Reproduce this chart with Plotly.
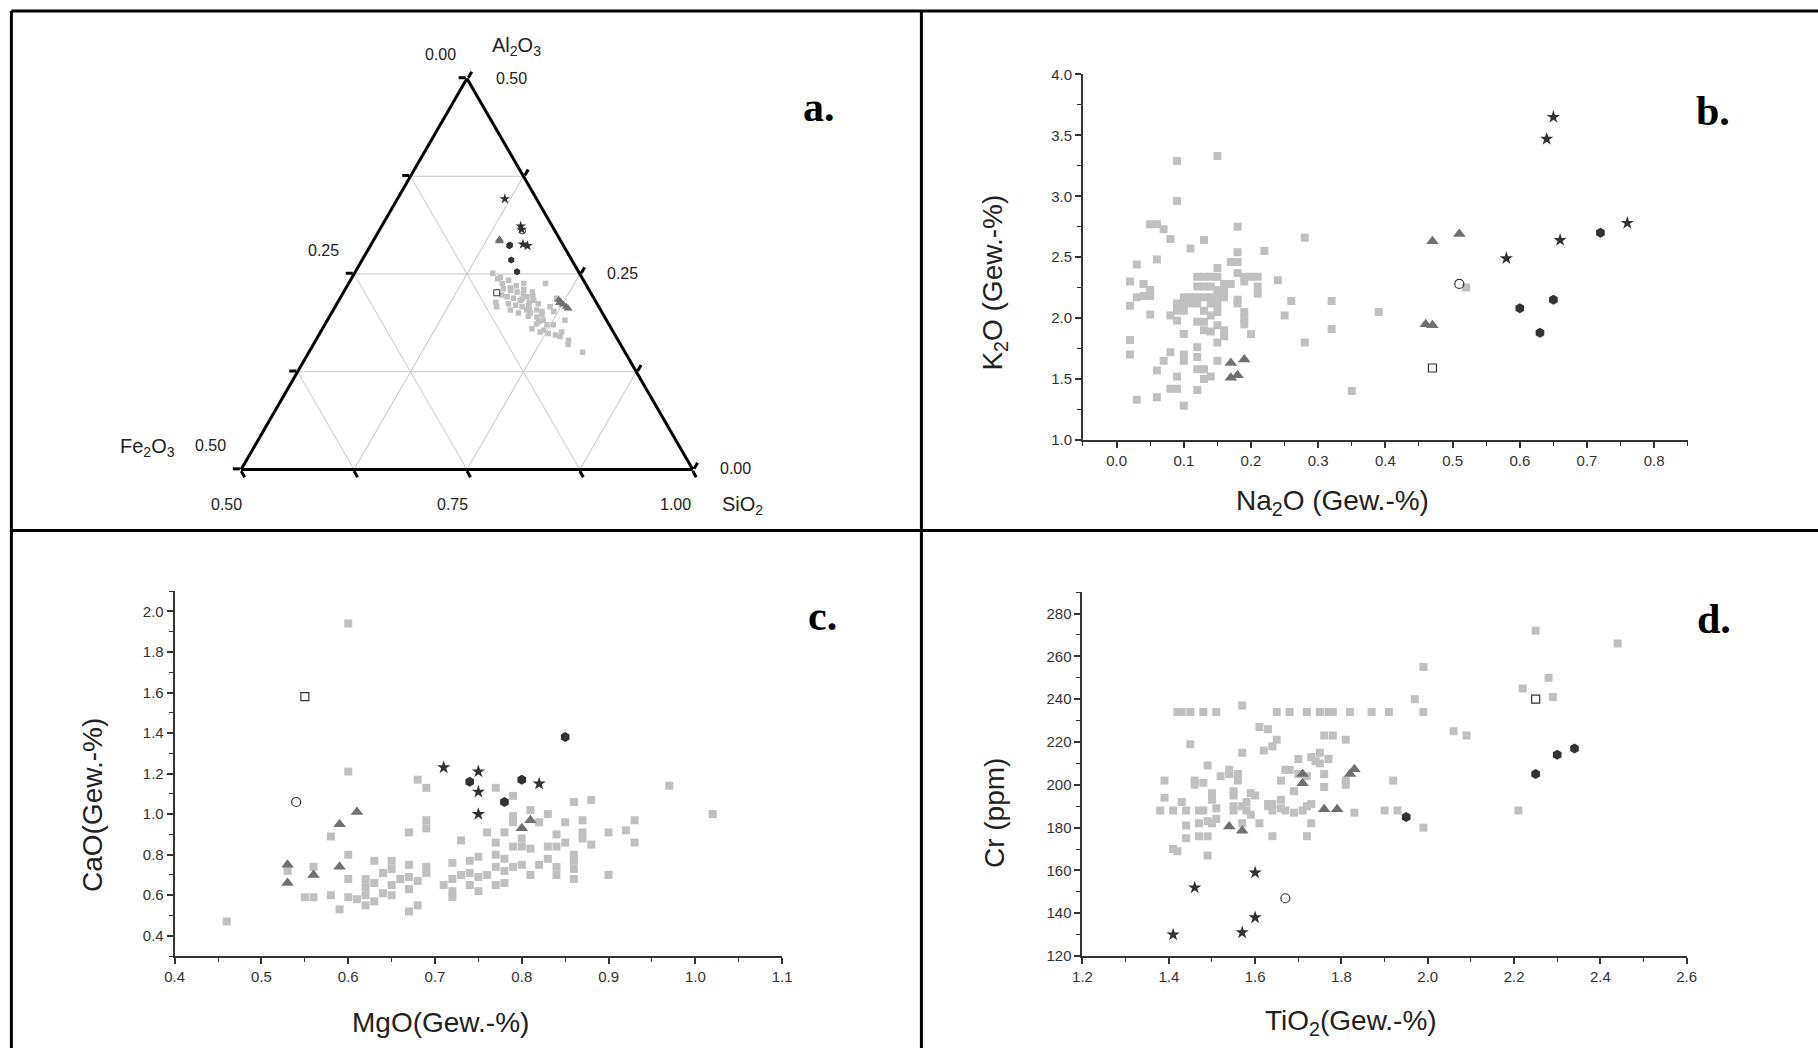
import plotly.graph_objects as go

W, H = 1818, 1048
# The photographed page appears inset and slightly scaled; positions below are
# given in target-picture pixels and mapped into figure space.
SX, TX = 0.989, 9.6
SY, TY = 0.983, 9.0

# ---------------- Panel a: ternary (Al2O3 / Fe2O3 / SiO2 fractions) ----------------
tern_sq_al = [0.251, 0.244, 0.238, 0.242, 0.238, 0.231, 0.229, 0.227, 0.225, 0.221, 0.219, 0.216,
              0.221, 0.227, 0.216, 0.212, 0.214, 0.208, 0.212, 0.210, 0.208, 0.210, 0.204, 0.202,
              0.208, 0.202, 0.200, 0.195, 0.191, 0.189, 0.185, 0.185, 0.180, 0.176, 0.178, 0.172,
              0.174, 0.191, 0.165, 0.150, 0.246, 0.219, 0.238, 0.204, 0.223, 0.176, 0.204, 0.200,
              0.235, 0.232, 0.218, 0.214, 0.206, 0.198, 0.196, 0.222, 0.230, 0.186, 0.170, 0.160]
tern_sq_fe = [0.096, 0.094, 0.092, 0.083, 0.044, 0.094, 0.087, 0.081, 0.075, 0.095, 0.089, 0.083,
              0.073, 0.064, 0.068, 0.065, 0.111, 0.113, 0.098, 0.091, 0.085, 0.077, 0.071, 0.066,
              0.054, 0.053, 0.080, 0.075, 0.070, 0.076, 0.062, 0.069, 0.088, 0.081, 0.076, 0.066,
              0.073, 0.046, 0.055, 0.047, 0.090, 0.041, 0.068, 0.082, 0.100, 0.057, 0.100, 0.093,
              0.078, 0.086, 0.080, 0.074, 0.078, 0.068, 0.084, 0.066, 0.072, 0.080, 0.062, 0.058]
tern_sq_si = [0.653, 0.662, 0.670, 0.675, 0.718, 0.675, 0.684, 0.692, 0.700, 0.684, 0.692, 0.701,
              0.706, 0.709, 0.716, 0.723, 0.675, 0.679, 0.690, 0.699, 0.707, 0.713, 0.725, 0.732,
              0.738, 0.745, 0.720, 0.730, 0.739, 0.735, 0.753, 0.746, 0.732, 0.743, 0.746, 0.762,
              0.753, 0.763, 0.780, 0.803, 0.664, 0.740, 0.694, 0.714, 0.677, 0.767, 0.696, 0.707,
              0.687, 0.682, 0.702, 0.712, 0.716, 0.734, 0.720, 0.712, 0.698, 0.734, 0.768, 0.782]

tern_tri_al = [0.294, 0.292, 0.215, 0.217, 0.213, 0.206, 0.208, 0.211]
tern_tri_fe = [0.067, 0.068, 0.039, 0.040, 0.041, 0.035, 0.036, 0.038]
tern_tri_si = [0.639, 0.640, 0.746, 0.743, 0.746, 0.759, 0.756, 0.751]

tern_star_al = [0.346, 0.311, 0.288, 0.286, 0.307]
tern_star_fe = [0.035, 0.035, 0.044, 0.040, 0.036]
tern_star_si = [0.619, 0.654, 0.668, 0.674, 0.657]

tern_hex_al = [0.286, 0.268, 0.253, 0.287]
tern_hex_fe = [0.060, 0.067, 0.068, 0.059]
tern_hex_si = [0.654, 0.665, 0.679, 0.654]

tern_oc_al, tern_oc_fe, tern_oc_si = [0.305], [0.036], [0.659]
tern_os_al, tern_os_fe, tern_os_si = [0.226], [0.104], [0.670]

# ---------------- Panel b: Na2O vs K2O ----------------
b_sq_na = [0.09, 0.15, 0.09, 0.05, 0.06, 0.07, 0.08, 0.18, 0.13, 0.11, 0.28, 0.22, 0.06, 0.03, 0.18,
           0.02, 0.04, 0.05, 0.04, 0.03, 0.05, 0.02, 0.05,
           0.15, 0.17, 0.18, 0.18, 0.12, 0.13, 0.14, 0.15, 0.16, 0.17, 0.12, 0.13, 0.14, 0.15, 0.16,
           0.10, 0.11, 0.12, 0.13, 0.14, 0.15, 0.16, 0.09, 0.10, 0.11, 0.12, 0.14, 0.15, 0.09, 0.10,
           0.13, 0.15, 0.14, 0.08,
           0.19, 0.20, 0.21, 0.19, 0.21, 0.21, 0.24, 0.18, 0.18, 0.26, 0.25, 0.19, 0.19, 0.19, 0.32, 0.32,
           0.09, 0.12, 0.13, 0.13, 0.14, 0.15, 0.16, 0.16, 0.10, 0.20, 0.15, 0.28, 0.02, 0.02, 0.08,
           0.07, 0.10, 0.10, 0.12, 0.12, 0.15, 0.06, 0.09, 0.12, 0.13, 0.13, 0.14, 0.08, 0.09, 0.12,
           0.03, 0.06, 0.10,
           0.35, 0.39, 0.52]
b_sq_k = [3.29, 3.33, 2.96, 2.77, 2.77, 2.73, 2.65, 2.75, 2.64, 2.57, 2.66, 2.55, 2.48, 2.44, 2.54,
          2.30, 2.28, 2.23, 2.18, 2.17, 2.18, 2.10, 2.03,
          2.41, 2.46, 2.46, 2.37, 2.34, 2.34, 2.34, 2.34, 2.28, 2.28, 2.26, 2.26, 2.26, 2.23, 2.23,
          2.17, 2.17, 2.17, 2.17, 2.17, 2.17, 2.17, 2.12, 2.12, 2.12, 2.12, 2.12, 2.11, 2.06, 2.06,
          2.06, 2.05, 2.02, 2.02,
          2.34, 2.34, 2.34, 2.30, 2.26, 2.20, 2.31, 2.15, 2.12, 2.14, 2.02, 2.05, 2.00, 1.95, 2.14, 1.91,
          1.98, 1.97, 1.97, 1.90, 1.89, 1.94, 1.90, 1.85, 1.87, 1.87, 1.80, 1.80, 1.82, 1.70, 1.72,
          1.65, 1.70, 1.65, 1.76, 1.68, 1.65, 1.57, 1.52, 1.58, 1.58, 1.50, 1.52, 1.42, 1.42, 1.41,
          1.33, 1.35, 1.28,
          1.40, 2.05, 2.25]
b_tri_na = [0.47, 0.51, 0.46, 0.47, 0.17, 0.19, 0.17, 0.18]
b_tri_k = [2.63, 2.69, 1.95, 1.94, 1.63, 1.66, 1.51, 1.53]
b_star_na = [0.65, 0.64, 0.58, 0.66, 0.76]
b_star_k = [3.65, 3.47, 2.49, 2.64, 2.78]
b_hex_na = [0.72, 0.60, 0.63, 0.65]
b_hex_k = [2.70, 2.08, 1.88, 2.15]
b_oc_na, b_oc_k = [0.51], [2.28]
b_os_na, b_os_k = [0.47], [1.59]

# ---------------- Panel c: MgO vs CaO ----------------
c_sq_mg = [0.60, 0.68, 0.69, 0.58, 0.67, 0.69, 0.69, 0.77, 0.79, 0.79, 0.79, 0.73, 0.76, 0.77, 0.78,
           0.60, 0.56, 0.53, 0.63, 0.65, 0.65, 0.64, 0.67, 0.69, 0.69, 0.72, 0.74, 0.75, 0.77, 0.77,
           0.78, 0.78, 0.78, 0.79, 0.80, 0.80, 0.79, 0.80,
           0.60, 0.62, 0.62, 0.62, 0.63, 0.65, 0.64, 0.65, 0.66, 0.67, 0.67, 0.68, 0.71, 0.72, 0.72,
           0.72, 0.73, 0.74, 0.74, 0.75, 0.75, 0.76, 0.77,
           0.55, 0.56, 0.58, 0.60, 0.61, 0.62, 0.63, 0.59, 0.67, 0.68,
           0.60, 0.46, 0.97, 1.02,
           0.86, 0.88, 0.81, 0.83, 0.82, 0.85, 0.87, 0.93, 0.92, 0.90, 0.93, 0.84, 0.87, 0.87, 0.85,
           0.88, 0.83, 0.84, 0.81, 0.86, 0.86, 0.86, 0.83, 0.82, 0.84, 0.84, 0.81, 0.86, 0.90]
c_sq_ca = [1.21, 1.17, 1.13, 0.89, 0.91, 0.97, 0.93, 1.13, 1.09, 0.99, 0.96, 0.87, 0.91, 0.86, 0.91,
           0.80, 0.74, 0.72, 0.77, 0.77, 0.73, 0.71, 0.75, 0.74, 0.71, 0.76, 0.77, 0.79, 0.80, 0.74,
           0.78, 0.72, 0.66, 0.74, 0.75, 0.84, 0.84, 0.88,
           0.68, 0.68, 0.64, 0.60, 0.66, 0.65, 0.61, 0.60, 0.68, 0.69, 0.63, 0.67, 0.65, 0.68, 0.62,
           0.59, 0.70, 0.71, 0.65, 0.69, 0.62, 0.70, 0.65,
           0.59, 0.59, 0.60, 0.59, 0.58, 0.55, 0.57, 0.53, 0.52, 0.55,
           1.94, 0.47, 1.14, 1.00,
           1.06, 1.07, 1.02, 1.00, 0.96, 0.96, 0.97, 0.97, 0.92, 0.91, 0.86, 0.90, 0.91, 0.88, 0.86,
           0.85, 0.84, 0.84, 0.83, 0.80, 0.77, 0.73, 0.78, 0.75, 0.74, 0.70, 0.70, 0.68, 0.70]
c_tri_mg = [0.53, 0.53, 0.56, 0.59, 0.59, 0.61, 0.80, 0.81]
c_tri_ca = [0.75, 0.66, 0.70, 0.74, 0.95, 1.01, 0.93, 0.97]
c_star_mg = [0.71, 0.75, 0.75, 0.75, 0.82]
c_star_ca = [1.23, 1.21, 1.11, 1.00, 1.15]
c_hex_mg = [0.74, 0.78, 0.80, 0.85]
c_hex_ca = [1.16, 1.06, 1.17, 1.38]
c_oc_mg, c_oc_ca = [0.54], [1.06]
c_os_mg, c_os_ca = [0.55], [1.58]

# ---------------- Panel d: TiO2 vs Cr ----------------
d_sq_ti = [1.42, 1.43, 1.45, 1.48, 1.51, 1.65, 1.68, 1.72, 1.75, 1.77, 1.78, 1.82, 1.87, 1.91, 1.99,
           1.57, 1.99, 1.97, 1.61, 1.63, 1.65, 1.64, 1.62, 1.57, 1.45, 1.76, 1.78, 1.81, 1.70, 1.73,
           1.75, 1.77, 1.74, 1.75, 1.49, 1.54, 1.54, 1.52, 1.56, 1.56, 1.67, 1.68, 1.70, 1.72, 1.76,
           1.76, 1.81, 1.81, 1.92, 1.39, 1.46, 1.46, 1.48, 1.66, 1.69, 1.39, 1.50, 1.50, 1.43, 1.55,
           1.55, 1.59, 1.60, 1.63, 1.64, 1.66, 1.38, 1.41, 1.44, 1.47, 1.48, 1.51, 1.55, 1.55, 1.57,
           1.58, 1.58, 1.59, 1.63, 1.64, 1.66, 1.67, 1.69, 1.71, 1.72, 1.73, 1.44, 1.47, 1.49, 1.50,
           1.51, 1.44, 1.47, 1.49, 1.57, 1.61, 1.64, 1.72, 1.73, 1.83, 1.90, 1.93, 1.99, 1.41, 1.42,
           1.49, 2.06, 2.09, 2.21, 2.22, 2.25, 2.28, 2.29, 2.44]
d_sq_cr = [234, 234, 234, 234, 234, 234, 234, 234, 234, 234, 234, 234, 234, 234, 234,
           237, 255, 240, 227, 226, 221, 218, 216, 215, 219, 223, 223, 221, 212, 213,
           215, 212, 211, 210, 209, 207, 205, 204, 205, 202, 207, 207, 205, 204, 205,
           199, 202, 200, 202, 202, 202, 200, 201, 202, 197, 194, 196, 193, 192, 197,
           195, 196, 195, 191, 191, 193, 188, 188, 188, 188, 188, 189, 190, 188, 190,
           192, 188, 186, 190, 188, 189, 188, 187, 188, 190, 191, 181, 182, 183, 182,
           184, 175, 176, 176, 182, 182, 176, 176, 182, 187, 188, 188, 180, 170, 169,
           167, 225, 223, 188, 245, 272, 250, 241, 266]
d_tri_ti = [1.54, 1.57, 1.71, 1.71, 1.76, 1.79, 1.82, 1.83]
d_tri_cr = [180.5, 178.5, 205, 200.7, 188.6, 188.6, 205, 207.3]
d_star_ti = [1.41, 1.46, 1.57, 1.60, 1.60]
d_star_cr = [130, 152, 131, 138, 159]
d_hex_ti = [1.95, 2.25, 2.30, 2.34]
d_hex_cr = [185, 205, 214, 217]
d_oc_ti, d_oc_cr = [1.67], [147]
d_os_ti, d_os_cr = [2.25], [240]

# ---------------- styles ----------------
SQ = 'rgb(192,192,192)'
TRI = 'rgb(112,112,112)'
DARK = 'rgb(50,50,50)'
NARROW = 'Liberation Sans Narrow, Arial Narrow, Liberation Sans, Arial, sans-serif'
SANS = 'Liberation Sans, Arial, sans-serif'
SERIF = 'Liberation Serif, Times New Roman, serif'


def px(x):
    return ((x - TX) / SX) / W


def py(y):
    return 1 - ((y - TY) / SY) / H


fig = go.Figure()


def add_xy(xs, ys, xa, ya, sym, color, size, line=None):
    fig.add_trace(go.Scatter(
        x=xs, y=ys, mode='markers', xaxis=xa, yaxis=ya, showlegend=False,
        marker=dict(symbol=sym, color=color, size=size,
                    line=line if line else dict(width=0))))


def add_panel(xa, ya, sq, tri, star, hexa, oc, os_):
    add_xy(sq[0], sq[1], xa, ya, 'square', SQ, 8)
    add_xy(tri[0], tri[1], xa, ya, 'triangle-up', TRI, 11)
    add_xy(star[0], star[1], xa, ya, 'star', DARK, 10)
    add_xy(hexa[0], hexa[1], xa, ya, 'hexagon', DARK, 10)
    add_xy(oc[0], oc[1], xa, ya, 'circle-open', DARK, 9, dict(width=1.2, color=DARK))
    add_xy(os_[0], os_[1], xa, ya, 'square-open', DARK, 8, dict(width=1.2, color=DARK))


add_panel('x', 'y', (b_sq_na, b_sq_k), (b_tri_na, b_tri_k), (b_star_na, b_star_k),
          (b_hex_na, b_hex_k), (b_oc_na, b_oc_k), (b_os_na, b_os_k))
add_panel('x2', 'y2', (c_sq_mg, c_sq_ca), (c_tri_mg, c_tri_ca), (c_star_mg, c_star_ca),
          (c_hex_mg, c_hex_ca), (c_oc_mg, c_oc_ca), (c_os_mg, c_os_ca))
add_panel('x3', 'y3', (d_sq_ti, d_sq_cr), (d_tri_ti, d_tri_cr), (d_star_ti, d_star_cr),
          (d_hex_ti, d_hex_cr), (d_oc_ti, d_oc_cr), (d_os_ti, d_os_cr))


def add_tern(a, b, c, sym, color, size, line=None):
    fig.add_trace(go.Scatterternary(
        a=a, b=b, c=c, mode='markers', showlegend=False,
        marker=dict(symbol=sym, color=color, size=size,
                    line=line if line else dict(width=0))))


add_tern(tern_sq_al, tern_sq_fe, tern_sq_si, 'square', SQ, 5.5)
add_tern(tern_tri_al, tern_tri_fe, tern_tri_si, 'triangle-up', TRI, 8)
add_tern(tern_star_al, tern_star_fe, tern_star_si, 'star', DARK, 8)
add_tern(tern_hex_al, tern_hex_fe, tern_hex_si, 'hexagon', DARK, 7)
add_tern(tern_oc_al, tern_oc_fe, tern_oc_si, 'circle-open', DARK, 6, dict(width=1, color=DARK))
add_tern(tern_os_al, tern_os_fe, tern_os_si, 'square-open', DARK, 6, dict(width=1, color=DARK))


def cart_axis(rng, dtick, dom, fmt, anchor):
    return dict(range=rng, domain=dom, anchor=anchor, dtick=dtick, tick0=0, tickformat=fmt,
                showline=True, linecolor='#333', linewidth=2, ticks='outside', ticklen=6,
                tickwidth=1.5, tickcolor='#333', showgrid=False, zeroline=False, mirror=False,
                minor=dict(ticks='outside', ticklen=4, tickwidth=1.2, tickcolor='#333',
                           dtick=dtick / 2, showgrid=False),
                tickfont=dict(family=NARROW, size=15, color='#333'))


tern_axis = dict(title=dict(text=''), showticklabels=False, linecolor='black', linewidth=3,
                 gridcolor='rgb(200,200,200)', gridwidth=1, ticks='outside', ticklen=7,
                 tickwidth=2.5, tickcolor='black', dtick=0.125, tick0=0)

fig.update_layout(
    width=W, height=H, margin=dict(l=0, r=0, t=0, b=0),
    paper_bgcolor='white', plot_bgcolor='white',
    xaxis=cart_axis([-0.05, 0.85], 0.1, [px(1082.6), px(1687.4)], '.1f', 'y'),
    yaxis=cart_axis([1.0, 4.0], 0.5, [py(439.5), py(74.4)], '.1f', 'x'),
    xaxis2=cart_axis([0.4, 1.1], 0.1, [px(174.3), px(781.7)], '.1f', 'y2'),
    yaxis2=cart_axis([0.3, 2.1], 0.2, [py(955.3), py(590.7)], '.1f', 'x2'),
    xaxis3=cart_axis([1.2, 2.6], 0.2, [px(1082.1), px(1686.3)], '.1f', 'y3'),
    yaxis3=cart_axis([120, 290], 20, [py(955.3), py(591.7)], 'd', 'x3'),
    ternary=dict(
        domain=dict(x=[px(240.6), px(692.5)], y=[py(469.2), py(78.4)]),
        bgcolor='white', sum=1,
        aaxis=dict(min=0, **tern_axis),
        baxis=dict(min=0, **tern_axis),
        caxis=dict(min=0.5, **tern_axis),
    ),
)

ann = []


def txt(x, y, text, size, family=SANS, angle=0, bold=False, color='#222'):
    ann.append(dict(x=px(x), y=py(y), xref='paper', yref='paper', text=('<b>%s</b>' % text) if bold else text,
                    showarrow=False, xanchor='center', yanchor='middle', textangle=angle,
                    font=dict(family=family, size=size, color=color)))


# ternary labels
tl = 16
txt(440, 54, '0.00', tl, NARROW)
txt(516, 46, 'Al<sub>2</sub>O<sub>3</sub>', 20, NARROW)
txt(511, 78, '0.50', tl, NARROW)
txt(323, 250, '0.25', tl, NARROW)
txt(622, 273, '0.25', tl, NARROW)
txt(147, 447, 'Fe<sub>2</sub>O<sub>3</sub>', 20, NARROW)
txt(210, 445, '0.50', tl, NARROW)
txt(735, 468, '0.00', tl, NARROW)
txt(226, 504, '0.50', tl, NARROW)
txt(452, 504, '0.75', tl, NARROW)
txt(675, 504, '1.00', tl, NARROW)
txt(742, 505, 'SiO<sub>2</sub>', 20, NARROW)

# axis titles
txt(1332, 502, 'Na<sub>2</sub>O (Gew.-%)', 28)
txt(994, 282, 'K<sub>2</sub>O (Gew.-%)', 28, angle=-90)
txt(440, 1022, 'MgO(Gew.-%)', 28)
txt(92, 804, 'CaO(Gew.-%)', 28, angle=-90)
txt(1351, 1022, 'TiO<sub>2</sub>(Gew.-%)', 28)
txt(994, 812, 'Cr (ppm)', 28, angle=-90)

# panel letters
txt(819, 107, 'a.', 42, SERIF, bold=True, color='black')
txt(1713, 111, 'b.', 42, SERIF, bold=True, color='black')
txt(822, 616, 'c.', 42, SERIF, bold=True, color='black')
txt(1714, 619, 'd.', 42, SERIF, bold=True, color='black')

fig.update_layout(annotations=ann)

# panel frame lines
shapes = []
top = 11
for (x0, y0, x1, y1) in [(11, top, 1818, top), (11, top, 11, 1048), (921, top, 921, 1048), (11, 530, 1818, 530)]:
    shapes.append(dict(type='line', xref='paper', yref='paper', x0=px(x0), y0=py(y0), x1=px(x1), y1=py(y1),
                       line=dict(color='black', width=3)))
fig.update_layout(shapes=shapes)

fig.write_html('out.html')
